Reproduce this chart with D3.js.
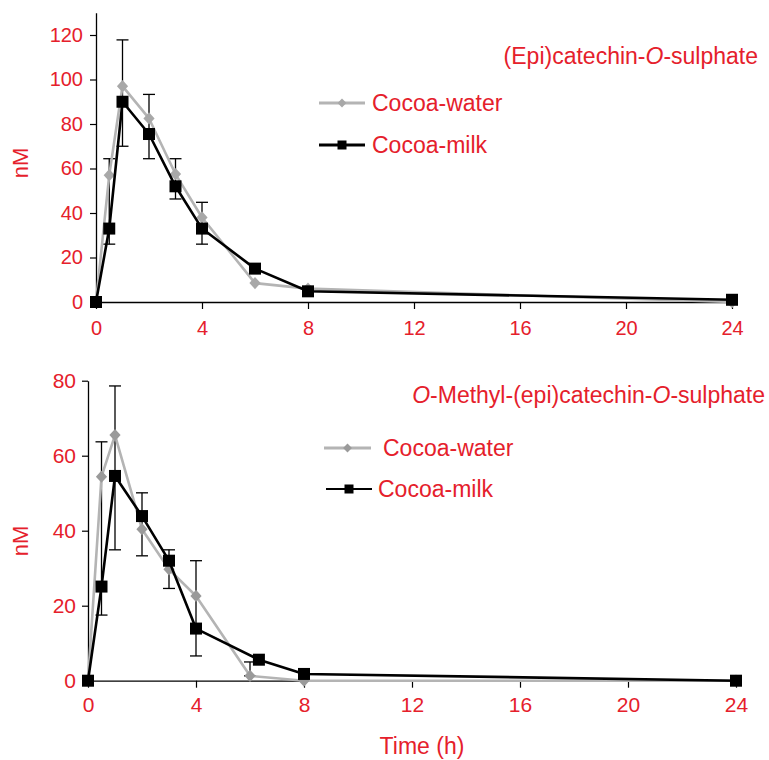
<!DOCTYPE html>
<html>
<head>
<meta charset="utf-8">
<script src="https://cdn.jsdelivr.net/npm/d3@7"></script>
<style>
  html, body { margin: 0; padding: 0; background: #fff; }
  svg text { font-family: "Liberation Sans", Arial, sans-serif; }
</style>
</head>
<body>
<svg id="chart" width="769" height="760"></svg>
<script>
// Plasma time-course of two cocoa metabolites (mean, nM)
const timeTicks = [0, 4, 8, 12, 16, 20, 24];

// Panel A: (Epi)catechin-O-sulphate
const timesA = [0, 0.5, 1, 2, 3, 4, 6, 8, 24];
const waterA = [0, 57, 97, 82.5, 57.5, 38, 8.5, 6, 0];
const milkA  = [0, 33, 90, 75.5, 52, 33, 15, 4.8, 1];
const errTimesA = [0.5, 1, 2, 3, 4];
const errHighA  = [64.4, 117.8, 93.3, 64.4, 44.8];
const errLowA   = [26, 70, 64.4, 46.3, 26];
const yTicksA = [0, 20, 40, 60, 80, 100, 120];

// Panel B: O-Methyl-(epi)catechin-O-sulphate
const timesWaterB = [0, 0.5, 1, 2, 3, 4, 6, 8, 24];
const waterB = [0, 54.4, 65.5, 40.4, 29.7, 22.6, 1.3, 0, 0];
const timesMilkB = [0, 0.5, 1, 2, 3, 4, 6.33, 8, 24];
const milkB  = [0, 25.1, 54.6, 43.9, 32, 13.9, 5.6, 1.8, 0];
const errTimesB = [0.5, 1, 2, 3, 4, 6];
const errHighB  = [63.7, 78.6, 50.1, 34.9, 32, 5];
const errLowB   = [17.5, 34.9, 33.3, 24.6, 6.6, 1.3];
const yTicksB = [0, 20, 40, 60, 80];

const RED = "#e5202b";
const GRAY_LINE = "#b4b4b4";
const svg = d3.select("#chart");

function drawPanel(cfg) {
  const g = svg.append("g");
  const x = d3.scaleLinear().domain([0, 24]).range(cfg.xRange);
  const y = d3.scaleLinear().domain(cfg.yDomain).range(cfg.yRange);

  // axes
  const xAxis = g.append("g").attr("transform", `translate(0,${cfg.yRange[0]})`)
    .call(d3.axisBottom(x).tickValues(timeTicks).tickSize(7).tickPadding(cfg.xPad).tickSizeOuter(0));
  const yAxis = g.append("g").attr("transform", `translate(${cfg.xRange[0]},0)`)
    .call(d3.axisLeft(y).tickValues(cfg.yTicks).tickSize(6).tickPadding(cfg.yPad).tickSizeOuter(0));
  [xAxis, yAxis].forEach(a => {
    a.select(".domain").attr("stroke", "#000").attr("stroke-width", 1.3);
    a.selectAll(".tick line").attr("stroke", "#000").attr("stroke-width", 1.2);
    a.selectAll(".tick text").attr("fill", RED).attr("font-size", cfg.tickFont)
      .attr("font-family", "Liberation Sans, Arial, sans-serif");
  });

  // error bars
  const cap = 6;
  const eb = g.append("g").attr("stroke", "#000").attr("stroke-width", 1.3);
  cfg.errTimes.forEach((t, i) => {
    const cx = x(t);
    eb.append("line").attr("x1", cx).attr("x2", cx).attr("y1", y(cfg.errLow[i])).attr("y2", y(cfg.errHigh[i]));
    eb.append("line").attr("x1", cx - cap).attr("x2", cx + cap).attr("y1", y(cfg.errHigh[i])).attr("y2", y(cfg.errHigh[i]));
    eb.append("line").attr("x1", cx - cap).attr("x2", cx + cap).attr("y1", y(cfg.errLow[i])).attr("y2", y(cfg.errLow[i]));
  });

  const line = d3.line().x(d => x(d[0])).y(d => y(d[1]));
  const water = cfg.waterT.map((t, i) => [t, cfg.water[i]]);
  const milk = cfg.milkT.map((t, i) => [t, cfg.milk[i]]);

  g.append("path").datum(water).attr("d", line).attr("fill", "none")
    .attr("stroke", GRAY_LINE).attr("stroke-width", 2.6).attr("stroke-linejoin", "round");
  g.selectAll(".dia").data(water).enter().append("path")
    .attr("d", d3.symbol(d3.symbolDiamond2, 80)())
    .attr("transform", d => `translate(${x(d[0])},${y(d[1])}) scale(1,1.1)`)
    .attr("fill", cfg.diamondColor);

  g.append("path").datum(milk).attr("d", line).attr("fill", "none")
    .attr("stroke", "#000").attr("stroke-width", 2.6).attr("stroke-linejoin", "round");
  g.selectAll(".sq").data(milk).enter().append("rect")
    .attr("x", d => x(d[0]) - 6).attr("y", d => y(d[1]) - 6)
    .attr("width", 12).attr("height", 12).attr("fill", "#000");

  // y label
  g.append("text").attr("transform", `translate(${cfg.nM[0]},${cfg.nM[1]}) rotate(-90)`)
    .attr("text-anchor", "middle").attr("dy", "0.35em")
    .attr("fill", RED).attr("font-size", 22).text("nM");

  // title (with italic O)
  const title = g.append("text").attr("x", cfg.title[0]).attr("y", cfg.title[1])
    .attr("text-anchor", "end").attr("fill", RED).attr("font-size", 23);
  cfg.titleParts.forEach(p => title.append("tspan").attr("font-style", p[1] ? "italic" : "normal").text(p[0]));

  // legend
  const lg = g.append("g");
  const lw = cfg.legend.water, lm = cfg.legend.milk;
  lg.append("line").attr("x1", lw.x1).attr("x2", lw.x2).attr("y1", lw.y).attr("y2", lw.y)
    .attr("stroke", GRAY_LINE).attr("stroke-width", 3.2);
  lg.append("path").attr("d", d3.symbol(d3.symbolDiamond2, 50)())
    .attr("transform", `translate(${(lw.x1 + lw.x2) / 2},${lw.y})`).attr("fill", cfg.diamondColor);
  lg.append("text").attr("x", lw.tx).attr("y", lw.y).attr("dy", "0.36em")
    .attr("fill", RED).attr("font-size", 23).text("Cocoa-water");
  lg.append("line").attr("x1", lm.x1).attr("x2", lm.x2).attr("y1", lm.y).attr("y2", lm.y)
    .attr("stroke", "#000").attr("stroke-width", lm.w);
  lg.append("rect").attr("x", (lm.x1 + lm.x2) / 2 - 4.5).attr("y", lm.y - 4.5)
    .attr("width", 9).attr("height", 9).attr("fill", "#000");
  lg.append("text").attr("x", lm.tx).attr("y", lm.y).attr("dy", "0.36em")
    .attr("fill", RED).attr("font-size", 23).text("Cocoa-milk");
}

drawPanel({
  xRange: [96, 732], yDomain: [0, 130], yRange: [302, 302 - 130 * 2.225], yTicks: yTicksA,
  xPad: 12, yPad: 7, tickFont: 20,
  waterT: timesA, water: waterA, milkT: timesA, milk: milkA,
  errTimes: errTimesA, errHigh: errHighA, errLow: errLowA,
  diamondColor: "#a8a8a8", nM: [20, 163], title: [758, 64],
  titleParts: [["(Epi)catechin-", false], ["O", true], ["-sulphate", false]],
  legend: { water: { x1: 319, x2: 365, y: 103, tx: 372 }, milk: { x1: 319, x2: 365, y: 145, tx: 372, w: 3 } }
});

drawPanel({
  xRange: [88, 736], yDomain: [0, 80], yRange: [680.7, 380.7], yTicks: yTicksB,
  xPad: 9, yPad: 6, tickFont: 21,
  waterT: timesWaterB, water: waterB, milkT: timesMilkB, milk: milkB,
  errTimes: errTimesB, errHigh: errHighB, errLow: errLowB,
  diamondColor: "#9a9a9a", nM: [20, 541], title: [765, 403],
  titleParts: [["O", true], ["-Methyl-(epi)catechin-", false], ["O", true], ["-sulphate", false]],
  legend: { water: { x1: 324, x2: 371, y: 448, tx: 383 }, milk: { x1: 326, x2: 372, y: 489, tx: 378, w: 1.8 } }
});

svg.append("text").attr("x", 422).attr("y", 746).attr("dy", "0.36em").attr("text-anchor", "middle")
  .attr("fill", RED).attr("font-size", 23).text("Time (h)");
</script>
</body>
</html>
